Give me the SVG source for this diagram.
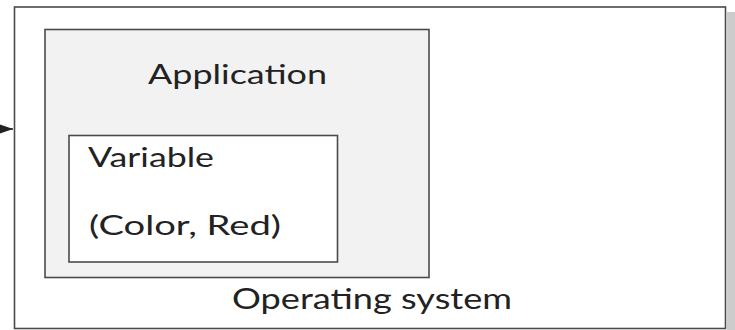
<svg xmlns="http://www.w3.org/2000/svg" width="735" height="330" viewBox="0 0 735 330">
  <style>
    .box { stroke: #4a4a4a; stroke-width: 1.6; }
    .label { font-family: Lato, "Open Sans", "Liberation Sans", sans-serif; fill: #222222; }
  </style>
  <defs>
    <marker id="arrow" markerWidth="13" markerHeight="10" refX="13" refY="5" orient="auto" markerUnits="userSpaceOnUse">
      <path d="M0,0.5 L13,5 L0,9.5 Z" fill="#222"/>
    </marker>
  </defs>
  <rect width="735" height="330" fill="#ffffff"/>

  <g id="operating-system">
    <!-- drop shadow along the right side -->
    <rect x="727" y="12" width="8" height="318" fill="#cccccc"/>
    <rect class="box" x="14.5" y="7" width="711" height="321.5" fill="#ffffff"/>
    <text class="label" x="232" y="309" font-size="28" textLength="280" lengthAdjust="spacingAndGlyphs">Operating system</text>
  </g>

  <g id="application">
    <rect class="box" x="45" y="29.5" width="384" height="248" fill="#f2f2f2"/>
    <text class="label" x="148" y="84" font-size="27" textLength="179" lengthAdjust="spacingAndGlyphs">Application</text>
  </g>

  <g id="variable">
    <rect class="box" x="69" y="135.5" width="268.5" height="126.5" fill="#ffffff"/>
    <text class="label" x="88" y="166.5" font-size="26" textLength="126" lengthAdjust="spacingAndGlyphs">Variable</text>
    <text class="label" x="89" y="235" font-size="26" textLength="192" lengthAdjust="spacingAndGlyphs">(Color, Red)</text>
  </g>

  <g id="connectors">
    <line x1="-4" y1="129" x2="13" y2="129" stroke="#222" stroke-width="1.5" marker-end="url(#arrow)"/>
  </g>
</svg>
